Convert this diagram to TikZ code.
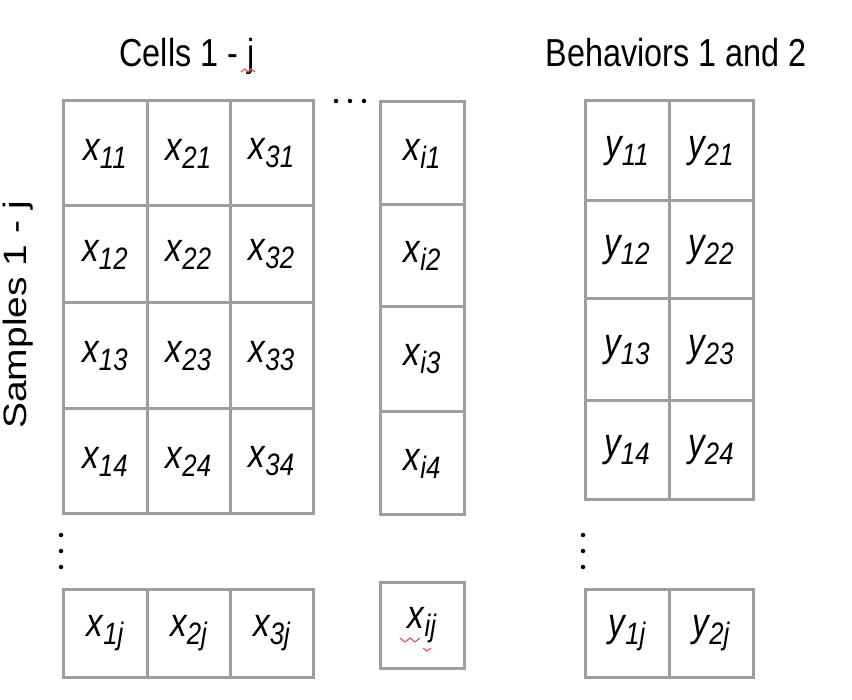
\documentclass[tikz,border=0pt]{standalone}
\usepackage{fontspec}
\setmainfont{Liberation Sans}
\usepackage{graphicx}
\definecolor{gridgray}{RGB}{158,158,158}
\definecolor{squig}{RGB}{235,90,90}
\newcommand\hsq[1]{\scalebox{0.83}[1]{#1}}
\newcommand\mainfs{\fontsize{40}{46}\selectfont}
\newcommand\subfs{\fontsize{31}{36}\selectfont}
\newcommand\titlefs{\fontsize{39}{46}\selectfont}
\newcommand\vx[2]{\hsq{\mainfs\itshape #1\raisebox{-8pt}{\subfs #2}}}
\newcommand\mycell[6]{\node[cellbox, minimum width={(#4-#2)*1pt}, minimum height={(#5-#3)*1pt}] (#1) at ({(#2+#4)/2},{(#3+#5)/2}) {#6};}
\tikzset{
  cellbox/.style={draw=gridgray, line width=3pt, inner sep=0pt, fill=white},
  dotmark/.style={circle, fill=black, inner sep=0pt, minimum size=4.5pt},
  titletext/.style={inner sep=0pt, anchor=base},
}
\begin{document}
\begin{tikzpicture}[x=1pt, y=-1pt]
\useasboundingbox (0,0) rectangle (852,700);
% titles
\node[titletext] (tcells) at (187,67) {\hsq{\titlefs Cells 1 - j}};
\node[titletext] (tbeh) at (676,67) {\hsq{\titlefs Behaviors 1 and 2}};
\node[titletext, rotate=90] (tsamp) at (26,315) {\scalebox{1}[0.83]{\titlefs Samples 1 - j}};
% spell-check squiggles
\draw[squig, line width=1.2pt] (241,72) -- (245,69) -- (248,72) -- (251,69) -- (255,72);
% left grid
\mycell{x11}{63}{101}{147}{206}{\vx{x}{11}}
\mycell{x21}{147}{101}{230}{206}{\vx{x}{21}}
\mycell{x31}{230}{101}{313}{206}{\vx{x}{31}}
\mycell{x12}{63}{206}{147}{303}{\vx{x}{12}}
\mycell{x22}{147}{206}{230}{303}{\vx{x}{22}}
\mycell{x32}{230}{206}{313}{303}{\vx{x}{32}}
\mycell{x13}{63}{303}{147}{409}{\vx{x}{13}}
\mycell{x23}{147}{303}{230}{409}{\vx{x}{23}}
\mycell{x33}{230}{303}{313}{409}{\vx{x}{33}}
\mycell{x14}{63}{409}{147}{514}{\vx{x}{14}}
\mycell{x24}{147}{409}{230}{514}{\vx{x}{24}}
\mycell{x34}{230}{409}{313}{514}{\vx{x}{34}}
\mycell{x1j}{63}{589}{147}{677}{\vx{x}{1j}}
\mycell{x2j}{147}{589}{230}{677}{\vx{x}{2j}}
\mycell{x3j}{230}{589}{313}{677}{\vx{x}{3j}}
% i column
\mycell{xi1}{380}{102}{464}{205}{\vx{x}{i1}}
\mycell{xi2}{380}{205}{464}{307}{\vx{x}{i2}}
\mycell{xi3}{380}{307}{464}{412}{\vx{x}{i3}}
\mycell{xi4}{380}{412}{464}{515}{\vx{x}{i4}}
\mycell{xij}{380}{582}{464}{668}{\vx{x}{ij}}
\draw[squig, line width=1.2pt] (400,638) -- (405,642) -- (410,638) -- (415,642) -- (420,638);
\draw[squig, line width=1.2pt] (423,648) -- (427,651) -- (431,648);
% right grid
\mycell{y11}{585}{101}{669}{201}{\vx{y}{11}}
\mycell{y21}{669}{101}{753}{201}{\vx{y}{21}}
\mycell{y12}{585}{201}{669}{299}{\vx{y}{12}}
\mycell{y22}{669}{201}{753}{299}{\vx{y}{22}}
\mycell{y13}{585}{299}{669}{401}{\vx{y}{13}}
\mycell{y23}{669}{299}{753}{401}{\vx{y}{23}}
\mycell{y14}{585}{401}{669}{500}{\vx{y}{14}}
\mycell{y24}{669}{401}{753}{500}{\vx{y}{24}}
\mycell{y1j}{585}{589}{669}{677}{\vx{y}{1j}}
\mycell{y2j}{669}{589}{753}{677}{\vx{y}{2j}}
% ellipses
\node[dotmark] (h1) at (336,101) {};
\node[dotmark] (h2) at (350,101) {};
\node[dotmark] (h3) at (364,101) {};
\node[dotmark] (l1) at (61,535) {};
\node[dotmark] (l2) at (61,551) {};
\node[dotmark] (l3) at (61,567) {};
\node[dotmark] (r1) at (583,535) {};
\node[dotmark] (r2) at (583,551) {};
\node[dotmark] (r3) at (583,567) {};
\end{tikzpicture}
\end{document}
